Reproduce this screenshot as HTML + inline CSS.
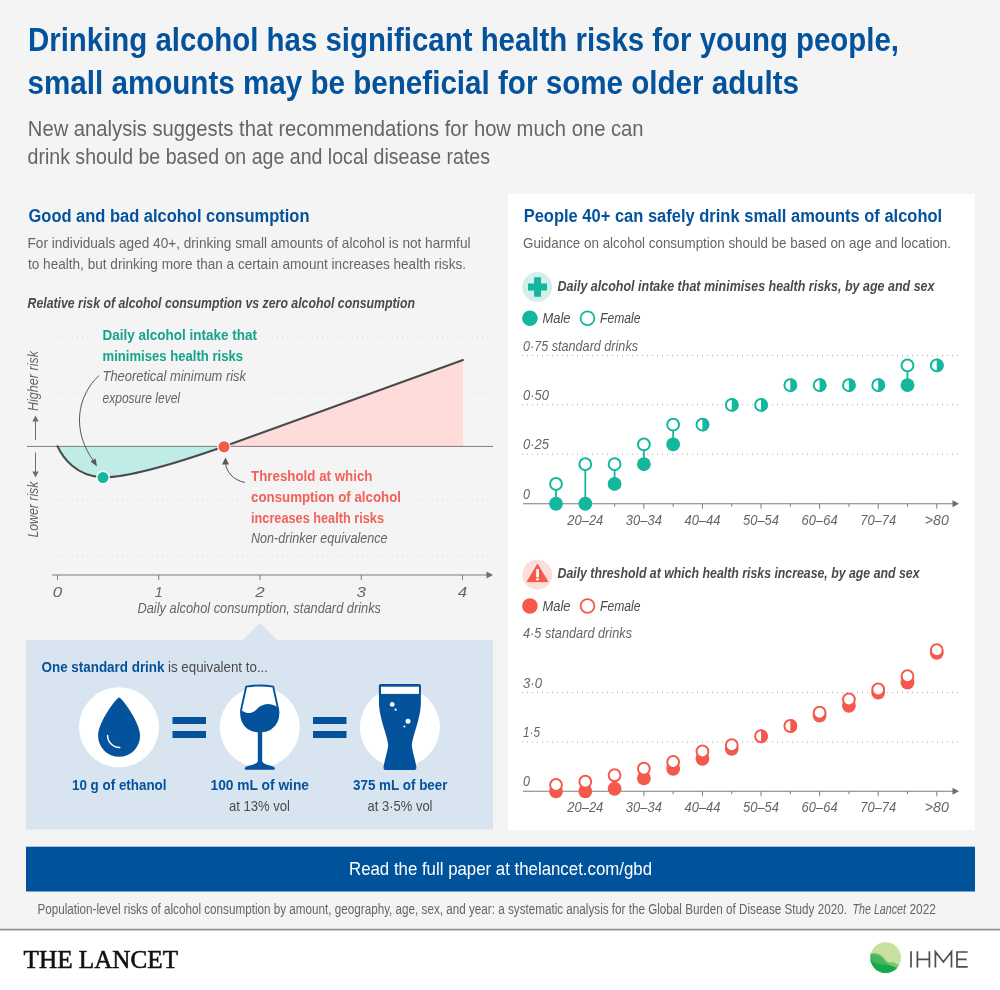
<!DOCTYPE html>
<html lang="en"><head><meta charset="utf-8"><title>Drinking alcohol has significant health risks for young people</title>
<style>
html,body{margin:0;padding:0;background:#f4f4f4;}
body{width:1000px;height:990px;overflow:hidden;font-family:"Liberation Sans",sans-serif;}
svg{display:block;will-change:transform;}
text{white-space:pre;}
</style></head><body>
<svg width="1000" height="990" viewBox="0 0 1000 990">
<rect x="0" y="0" width="1000" height="990" fill="#f4f4f4"/>
<rect x="508" y="194" width="466.5" height="636" fill="#fff"/>
<text x="28" y="50.6" font-size="34" fill="#04529c" font-weight="700" font-style="normal" text-anchor="start" font-family="'Liberation Sans', sans-serif" textLength="871" lengthAdjust="spacingAndGlyphs">Drinking alcohol has significant health risks for young people,</text>
<text x="27.5" y="94" font-size="34" fill="#04529c" font-weight="700" font-style="normal" text-anchor="start" font-family="'Liberation Sans', sans-serif" textLength="771.5" lengthAdjust="spacingAndGlyphs">small amounts may be beneficial for some older adults</text>
<text x="27.8" y="135.8" font-size="22.6" fill="#646567" font-weight="400" font-style="normal" text-anchor="start" font-family="'Liberation Sans', sans-serif" textLength="615.8" lengthAdjust="spacingAndGlyphs">New analysis suggests that recommendations for how much one can</text>
<text x="27.5" y="163.6" font-size="22.6" fill="#646567" font-weight="400" font-style="normal" text-anchor="start" font-family="'Liberation Sans', sans-serif" textLength="462.5" lengthAdjust="spacingAndGlyphs">drink should be based on age and local disease rates</text>
<text x="28.5" y="222" font-size="18" fill="#04529c" font-weight="700" font-style="normal" text-anchor="start" font-family="'Liberation Sans', sans-serif" textLength="281" lengthAdjust="spacingAndGlyphs">Good and bad alcohol consumption</text>
<text x="27.5" y="248" font-size="15" fill="#646567" font-weight="400" font-style="normal" text-anchor="start" font-family="'Liberation Sans', sans-serif" textLength="443" lengthAdjust="spacingAndGlyphs">For individuals aged 40+, drinking small amounts of alcohol is not harmful</text>
<text x="28" y="269" font-size="15" fill="#646567" font-weight="400" font-style="normal" text-anchor="start" font-family="'Liberation Sans', sans-serif" textLength="438" lengthAdjust="spacingAndGlyphs">to health, but drinking more than a certain amount increases health risks.</text>
<text x="27.5" y="307.5" font-size="14.5" fill="#4a4a4c" font-weight="700" font-style="italic" text-anchor="start" font-family="'Liberation Sans', sans-serif" textLength="387.5" lengthAdjust="spacingAndGlyphs">Relative risk of alcohol consumption vs zero alcohol consumption</text>
<line x1="52" y1="337.5" x2="493.5" y2="337.5" stroke="#dadada" stroke-width="1" stroke-dasharray="1 4"/>
<line x1="52" y1="392.3" x2="493.5" y2="392.3" stroke="#dadada" stroke-width="1" stroke-dasharray="1 4"/>
<line x1="52" y1="500.5" x2="493.5" y2="500.5" stroke="#dadada" stroke-width="1" stroke-dasharray="1 4"/>
<line x1="52" y1="555.4" x2="493.5" y2="555.4" stroke="#dadada" stroke-width="1" stroke-dasharray="1 4"/>
<rect x="88" y="326" width="184" height="84" fill="#f4f4f4"/>
<rect x="247" y="468" width="161" height="80" fill="#f4f4f4"/>
<path d="M57.5,446.25 C63,458 76,476 103,477.5 C135,477 190,458.5 224,446.5 L57.5,446.25 Z" fill="#bfece6"/>
<path d="M224,446.5 L463,360 L463,446.5 Z" fill="#fddcd9"/>
<line x1="27" y1="446.4" x2="493" y2="446.4" stroke="#7d7d7f" stroke-width="1"/>
<path d="M57.5,446.25 C63,458 76,476 103,477.5 C135,477 190,458.5 224,446.5 L463,360" fill="none" stroke="#4a4a4c" stroke-width="2" stroke-linejoin="round" stroke-linecap="round"/>
<circle cx="103" cy="477.5" r="6.2" fill="#13b79d" stroke="#fff" stroke-width="1.4"/>
<circle cx="224" cy="446.8" r="6.2" fill="#f5594c" stroke="#fff" stroke-width="1.2"/>
<path d="M99,375.5 C78,395 70,430 95,463" fill="none" stroke="#58585a" stroke-width="1"/>
<path d="M97,466.5 L90.5,461.5 L95.5,458.5 Z" fill="#58585a"/>
<path d="M245,482.5 C233,480 226,472 225.5,462" fill="none" stroke="#58585a" stroke-width="1"/>
<path d="M225.5,457.5 L229,464.5 L222,464.5 Z" fill="#58585a"/>
<text x="102.5" y="340" font-size="15" fill="#16a38b" font-weight="700" font-style="normal" text-anchor="start" font-family="'Liberation Sans', sans-serif" textLength="154.5" lengthAdjust="spacingAndGlyphs">Daily alcohol intake that</text>
<text x="102.5" y="360.5" font-size="15" fill="#16a38b" font-weight="700" font-style="normal" text-anchor="start" font-family="'Liberation Sans', sans-serif" textLength="140.5" lengthAdjust="spacingAndGlyphs">minimises health risks</text>
<text x="102.5" y="381" font-size="14.5" fill="#646567" font-weight="400" font-style="italic" text-anchor="start" font-family="'Liberation Sans', sans-serif" textLength="143.5" lengthAdjust="spacingAndGlyphs">Theoretical minimum risk</text>
<text x="102.5" y="402.5" font-size="14.5" fill="#646567" font-weight="400" font-style="italic" text-anchor="start" font-family="'Liberation Sans', sans-serif" textLength="77.5" lengthAdjust="spacingAndGlyphs">exposure level</text>
<text x="251" y="480.8" font-size="15" fill="#f1625a" font-weight="700" font-style="normal" text-anchor="start" font-family="'Liberation Sans', sans-serif" textLength="121.5" lengthAdjust="spacingAndGlyphs">Threshold at which</text>
<text x="251" y="501.8" font-size="15" fill="#f1625a" font-weight="700" font-style="normal" text-anchor="start" font-family="'Liberation Sans', sans-serif" textLength="150" lengthAdjust="spacingAndGlyphs">consumption of alcohol</text>
<text x="251" y="522.5" font-size="15" fill="#f1625a" font-weight="700" font-style="normal" text-anchor="start" font-family="'Liberation Sans', sans-serif" textLength="133" lengthAdjust="spacingAndGlyphs">increases health risks</text>
<text x="251" y="543" font-size="14.5" fill="#646567" font-weight="400" font-style="italic" text-anchor="start" font-family="'Liberation Sans', sans-serif" textLength="136.5" lengthAdjust="spacingAndGlyphs">Non-drinker equivalence</text>
<line x1="35.5" y1="440" x2="35.5" y2="420" stroke="#6d6e70" stroke-width="1"/>
<path d="M35.5,415.5 L32.3,421.5 L38.7,421.5 Z" fill="#6d6e70"/>
<line x1="35.5" y1="452.5" x2="35.5" y2="472" stroke="#6d6e70" stroke-width="1"/>
<path d="M35.5,477.5 L32.3,471.5 L38.7,471.5 Z" fill="#6d6e70"/>
<text x="0" y="0" font-size="14.5" fill="#646567" font-weight="400" font-style="italic" text-anchor="start" font-family="'Liberation Sans', sans-serif" textLength="60" lengthAdjust="spacingAndGlyphs" transform="translate(38.2,411) rotate(-90)">Higher risk</text>
<text x="0" y="0" font-size="14.5" fill="#646567" font-weight="400" font-style="italic" text-anchor="start" font-family="'Liberation Sans', sans-serif" textLength="56" lengthAdjust="spacingAndGlyphs" transform="translate(38.2,537.6) rotate(-90)">Lower risk</text>
<line x1="52" y1="575" x2="488" y2="575" stroke="#7d7d7f" stroke-width="1"/>
<path d="M493,575 L486.5,571.5 L486.5,578.5 Z" fill="#6d6e70"/>
<line x1="57.5" y1="575" x2="57.5" y2="580" stroke="#7d7d7f" stroke-width="1"/>
<text x="57.5" y="596.6" font-size="15" fill="#646567" font-weight="400" font-style="italic" text-anchor="middle" font-family="'Liberation Sans', sans-serif" textLength="9.4" lengthAdjust="spacingAndGlyphs">0</text>
<line x1="158.75" y1="575" x2="158.75" y2="580" stroke="#7d7d7f" stroke-width="1"/>
<text x="158.75" y="596.6" font-size="15" fill="#646567" font-weight="400" font-style="italic" text-anchor="middle" font-family="'Liberation Sans', sans-serif" textLength="8" lengthAdjust="spacingAndGlyphs">1</text>
<line x1="260.0" y1="575" x2="260.0" y2="580" stroke="#7d7d7f" stroke-width="1"/>
<text x="260.0" y="596.6" font-size="15" fill="#646567" font-weight="400" font-style="italic" text-anchor="middle" font-family="'Liberation Sans', sans-serif" textLength="9.4" lengthAdjust="spacingAndGlyphs">2</text>
<line x1="361.25" y1="575" x2="361.25" y2="580" stroke="#7d7d7f" stroke-width="1"/>
<text x="361.25" y="596.6" font-size="15" fill="#646567" font-weight="400" font-style="italic" text-anchor="middle" font-family="'Liberation Sans', sans-serif" textLength="9.4" lengthAdjust="spacingAndGlyphs">3</text>
<line x1="462.5" y1="575" x2="462.5" y2="580" stroke="#7d7d7f" stroke-width="1"/>
<text x="462.5" y="596.6" font-size="15" fill="#646567" font-weight="400" font-style="italic" text-anchor="middle" font-family="'Liberation Sans', sans-serif" textLength="9.4" lengthAdjust="spacingAndGlyphs">4</text>
<text x="137.5" y="612.5" font-size="14.5" fill="#646567" font-weight="400" font-style="italic" text-anchor="start" font-family="'Liberation Sans', sans-serif" textLength="243.5" lengthAdjust="spacingAndGlyphs">Daily alcohol consumption, standard drinks</text>
<path d="M26,640 L243,640 L260,623 L277,640 L493,640 L493,829.5 L26,829.5 Z" fill="#d9e4f1"/>
<text x="41.5" y="672" font-size="15.5" fill="#04529c" font-weight="700" font-style="normal" text-anchor="start" font-family="'Liberation Sans', sans-serif" textLength="123" lengthAdjust="spacingAndGlyphs">One standard drink</text>
<text x="168" y="672" font-size="15.5" fill="#4a4a4c" font-weight="400" font-style="normal" text-anchor="start" font-family="'Liberation Sans', sans-serif" textLength="100" lengthAdjust="spacingAndGlyphs">is equivalent to...</text>
<circle cx="119" cy="727.3" r="40" fill="#fff"/>
<circle cx="259.8" cy="727.3" r="40" fill="#fff"/>
<circle cx="399.9" cy="727.3" r="40" fill="#fff"/>
<rect x="172.5" y="717" width="33.5" height="7" fill="#04529c"/>
<rect x="172.5" y="731" width="33.5" height="7" fill="#04529c"/>
<rect x="313" y="717" width="33.5" height="7" fill="#04529c"/>
<rect x="313" y="731" width="33.5" height="7" fill="#04529c"/>
<path d="M119.1,697.6 C121.5,697.6 140.1,722 140.1,735.8 A21,21 0 0 1 98.1,735.8 C98.1,722 116.7,697.6 119.1,697.6 Z" fill="#04529c"/>
<path d="M107.6,735.4 A12,12 0 0 0 119.8,747.4" fill="none" stroke="#fff" stroke-width="1.5" stroke-linecap="round"/>
<path d="M246.2,686.6 Q259.8,684.3 273.2,686.6 L277.6,706.8 C279.5,714 279,731 259.8,731.5 C240.5,731 240,714 241.8,706.5 Z" fill="#fff" stroke="#04529c" stroke-width="1.9" stroke-linejoin="round"/>
<path d="M241.5,710.5 C246,713.5 251,714.5 256,710 C261,704.5 268,701.5 277.3,707 C279.5,714 279,731 259.8,731.5 C240.5,731 239.8,716 241.5,710.5 Z" fill="#04529c"/>
<rect x="257.8" y="730" width="4.4" height="34" fill="#04529c"/>
<path d="M257.8,761.5 C256.5,764.5 248,765.6 245.6,767 Q244.4,768 244.8,768.9 Q245.2,769.8 246.6,769.8 L273,769.8 Q274.4,769.8 274.8,768.9 Q275.2,768 274,767 C271.6,765.6 263.5,764.5 262.2,761.5 Z" fill="#04529c"/>
<path d="M380.8,684 L419,684 Q421,684 421,686 L420.8,705 C420,720 412.6,736 411.8,745 C412.3,752 415.5,760 416.4,767.5 Q416.6,770 414.4,770 L385.5,770 Q383.3,770 383.5,767.5 C384.4,760 387.6,752 388.2,745 C387.4,736 380,720 379,705 L378.8,686 Q378.8,684 380.8,684 Z" fill="#04529c"/>
<rect x="381" y="686.7" width="38" height="7.2" fill="#fff"/>
<circle cx="392.2" cy="704.4" r="2.4" fill="#fff"/>
<circle cx="395.6" cy="709.7" r="1.1" fill="#fff"/>
<circle cx="408" cy="721.3" r="2.5" fill="#fff"/>
<circle cx="404.4" cy="726.6" r="1.0" fill="#fff"/>
<text x="72" y="790" font-size="15" fill="#04529c" font-weight="700" font-style="normal" text-anchor="start" font-family="'Liberation Sans', sans-serif" textLength="94.5" lengthAdjust="spacingAndGlyphs">10 g of ethanol</text>
<text x="210.5" y="790" font-size="15" fill="#04529c" font-weight="700" font-style="normal" text-anchor="start" font-family="'Liberation Sans', sans-serif" textLength="98.5" lengthAdjust="spacingAndGlyphs">100 mL of wine</text>
<text x="229" y="811" font-size="15" fill="#4a4a4c" font-weight="400" font-style="normal" text-anchor="start" font-family="'Liberation Sans', sans-serif" textLength="61" lengthAdjust="spacingAndGlyphs">at 13% vol</text>
<text x="353" y="790" font-size="15" fill="#04529c" font-weight="700" font-style="normal" text-anchor="start" font-family="'Liberation Sans', sans-serif" textLength="94.5" lengthAdjust="spacingAndGlyphs">375 mL of beer</text>
<text x="367.5" y="811" font-size="15" fill="#4a4a4c" font-weight="400" font-style="normal" text-anchor="start" font-family="'Liberation Sans', sans-serif" textLength="65" lengthAdjust="spacingAndGlyphs">at 3·5% vol</text>
<text x="523.7" y="221.9" font-size="18" fill="#04529c" font-weight="700" font-style="normal" text-anchor="start" font-family="'Liberation Sans', sans-serif" textLength="418.5" lengthAdjust="spacingAndGlyphs">People 40+ can safely drink small amounts of alcohol</text>
<text x="523" y="248" font-size="15" fill="#646567" font-weight="400" font-style="normal" text-anchor="start" font-family="'Liberation Sans', sans-serif" textLength="428" lengthAdjust="spacingAndGlyphs">Guidance on alcohol consumption should be based on age and location.</text>
<circle cx="537.25" cy="286.95" r="14.9" fill="#d3efea"/>
<path d="M534.1,277.35 h6.9 v6.1 h6 v7.1 h-6 v6.2 h-6.9 v-6.2 h-6.1 v-7.1 h6.1 Z" fill="#13b79d"/>
<text x="557.5" y="290.75" font-size="14.5" fill="#4a4a4c" font-weight="700" font-style="italic" text-anchor="start" font-family="'Liberation Sans', sans-serif" textLength="377" lengthAdjust="spacingAndGlyphs">Daily alcohol intake that minimises health risks, by age and sex</text>
<circle cx="529.9" cy="318.25" r="7.8" fill="#13b79d"/>
<circle cx="587.5" cy="318.25" r="6.9" fill="#fff" stroke="#13b79d" stroke-width="1.8"/>
<text x="542.5" y="323.05" font-size="15" fill="#4a4a4c" font-weight="400" font-style="italic" text-anchor="start" font-family="'Liberation Sans', sans-serif" textLength="28" lengthAdjust="spacingAndGlyphs">Male</text>
<text x="600" y="323.05" font-size="15" fill="#4a4a4c" font-weight="400" font-style="italic" text-anchor="start" font-family="'Liberation Sans', sans-serif" textLength="40.5" lengthAdjust="spacingAndGlyphs">Female</text>
<line x1="522" y1="355.50" x2="958.5" y2="355.50" stroke="#a9a9a9" stroke-width="1" stroke-dasharray="1 4"/>
<text x="523" y="350.5" font-size="14.5" fill="#646567" font-weight="400" font-style="italic" text-anchor="start" font-family="'Liberation Sans', sans-serif" textLength="115" lengthAdjust="spacingAndGlyphs">0·75 standard drinks</text>
<line x1="522" y1="404.75" x2="958.5" y2="404.75" stroke="#a9a9a9" stroke-width="1" stroke-dasharray="1 4"/>
<text x="523" y="399.75" font-size="14.5" fill="#646567" font-weight="400" font-style="italic" text-anchor="start" font-family="'Liberation Sans', sans-serif" textLength="26" lengthAdjust="spacingAndGlyphs">0·50</text>
<line x1="522" y1="454.25" x2="958.5" y2="454.25" stroke="#a9a9a9" stroke-width="1" stroke-dasharray="1 4"/>
<text x="523" y="449.25" font-size="14.5" fill="#646567" font-weight="400" font-style="italic" text-anchor="start" font-family="'Liberation Sans', sans-serif" textLength="26" lengthAdjust="spacingAndGlyphs">0·25</text>
<text x="523" y="498.75" font-size="14.5" fill="#646567" font-weight="400" font-style="italic" text-anchor="start" font-family="'Liberation Sans', sans-serif" textLength="7" lengthAdjust="spacingAndGlyphs">0</text>
<line x1="523" y1="503.75" x2="954" y2="503.75" stroke="#7d7d7f" stroke-width="1"/>
<path d="M959,503.75 L952.5,500.25 L952.5,507.25 Z" fill="#6d6e70"/>
<line x1="585.29" y1="503.75" x2="585.29" y2="508.75" stroke="#7d7d7f" stroke-width="1"/>
<text x="585.29" y="524.75" font-size="14.5" fill="#646567" font-weight="400" font-style="italic" text-anchor="middle" font-family="'Liberation Sans', sans-serif" textLength="36" lengthAdjust="spacingAndGlyphs">20–24</text>
<line x1="614.58" y1="503.75" x2="614.58" y2="506.75" stroke="#7d7d7f" stroke-width="1"/>
<line x1="643.87" y1="503.75" x2="643.87" y2="508.75" stroke="#7d7d7f" stroke-width="1"/>
<text x="643.87" y="524.75" font-size="14.5" fill="#646567" font-weight="400" font-style="italic" text-anchor="middle" font-family="'Liberation Sans', sans-serif" textLength="36" lengthAdjust="spacingAndGlyphs">30–34</text>
<line x1="673.16" y1="503.75" x2="673.16" y2="506.75" stroke="#7d7d7f" stroke-width="1"/>
<line x1="702.45" y1="503.75" x2="702.45" y2="508.75" stroke="#7d7d7f" stroke-width="1"/>
<text x="702.45" y="524.75" font-size="14.5" fill="#646567" font-weight="400" font-style="italic" text-anchor="middle" font-family="'Liberation Sans', sans-serif" textLength="36" lengthAdjust="spacingAndGlyphs">40–44</text>
<line x1="731.74" y1="503.75" x2="731.74" y2="506.75" stroke="#7d7d7f" stroke-width="1"/>
<line x1="761.03" y1="503.75" x2="761.03" y2="508.75" stroke="#7d7d7f" stroke-width="1"/>
<text x="761.03" y="524.75" font-size="14.5" fill="#646567" font-weight="400" font-style="italic" text-anchor="middle" font-family="'Liberation Sans', sans-serif" textLength="36" lengthAdjust="spacingAndGlyphs">50–54</text>
<line x1="790.32" y1="503.75" x2="790.32" y2="506.75" stroke="#7d7d7f" stroke-width="1"/>
<line x1="819.61" y1="503.75" x2="819.61" y2="508.75" stroke="#7d7d7f" stroke-width="1"/>
<text x="819.61" y="524.75" font-size="14.5" fill="#646567" font-weight="400" font-style="italic" text-anchor="middle" font-family="'Liberation Sans', sans-serif" textLength="36" lengthAdjust="spacingAndGlyphs">60–64</text>
<line x1="848.90" y1="503.75" x2="848.90" y2="506.75" stroke="#7d7d7f" stroke-width="1"/>
<line x1="878.19" y1="503.75" x2="878.19" y2="508.75" stroke="#7d7d7f" stroke-width="1"/>
<text x="878.19" y="524.75" font-size="14.5" fill="#646567" font-weight="400" font-style="italic" text-anchor="middle" font-family="'Liberation Sans', sans-serif" textLength="36" lengthAdjust="spacingAndGlyphs">70–74</text>
<line x1="907.48" y1="503.75" x2="907.48" y2="506.75" stroke="#7d7d7f" stroke-width="1"/>
<line x1="936.77" y1="503.75" x2="936.77" y2="508.75" stroke="#7d7d7f" stroke-width="1"/>
<text x="936.77" y="524.75" font-size="14.5" fill="#646567" font-weight="400" font-style="italic" text-anchor="middle" font-family="'Liberation Sans', sans-serif" textLength="24" lengthAdjust="spacingAndGlyphs">&gt;80</text>
<line x1="556.00" y1="503.75" x2="556.00" y2="483.99" stroke="#13b79d" stroke-width="1.8"/>
<circle cx="556.00" cy="503.75" r="6.9" fill="#13b79d"/>
<circle cx="556.00" cy="483.99" r="5.9" fill="#fff" stroke="#13b79d" stroke-width="2"/>
<line x1="585.29" y1="503.75" x2="585.29" y2="464.23" stroke="#13b79d" stroke-width="1.8"/>
<circle cx="585.29" cy="503.75" r="6.9" fill="#13b79d"/>
<circle cx="585.29" cy="464.23" r="5.9" fill="#fff" stroke="#13b79d" stroke-width="2"/>
<line x1="614.58" y1="483.99" x2="614.58" y2="464.23" stroke="#13b79d" stroke-width="1.8"/>
<circle cx="614.58" cy="483.99" r="6.9" fill="#13b79d"/>
<circle cx="614.58" cy="464.23" r="5.9" fill="#fff" stroke="#13b79d" stroke-width="2"/>
<line x1="643.87" y1="464.23" x2="643.87" y2="444.47" stroke="#13b79d" stroke-width="1.8"/>
<circle cx="643.87" cy="464.23" r="6.9" fill="#13b79d"/>
<circle cx="643.87" cy="444.47" r="5.9" fill="#fff" stroke="#13b79d" stroke-width="2"/>
<line x1="673.16" y1="444.47" x2="673.16" y2="424.71" stroke="#13b79d" stroke-width="1.8"/>
<circle cx="673.16" cy="444.47" r="6.9" fill="#13b79d"/>
<circle cx="673.16" cy="424.71" r="5.9" fill="#fff" stroke="#13b79d" stroke-width="2"/>
<circle cx="702.45" cy="424.71" r="5.9" fill="#fff" stroke="#13b79d" stroke-width="2"/>
<path d="M702.45,417.81 A6.9,6.9 0 0 1 702.45,431.61 Z" fill="#13b79d"/>
<circle cx="731.74" cy="404.95" r="5.9" fill="#fff" stroke="#13b79d" stroke-width="2"/>
<path d="M731.74,398.05 A6.9,6.9 0 0 1 731.74,411.85 Z" fill="#13b79d"/>
<circle cx="761.03" cy="404.95" r="5.9" fill="#fff" stroke="#13b79d" stroke-width="2"/>
<path d="M761.03,398.05 A6.9,6.9 0 0 1 761.03,411.85 Z" fill="#13b79d"/>
<circle cx="790.32" cy="385.19" r="5.9" fill="#fff" stroke="#13b79d" stroke-width="2"/>
<path d="M790.32,378.29 A6.9,6.9 0 0 1 790.32,392.09 Z" fill="#13b79d"/>
<circle cx="819.61" cy="385.19" r="5.9" fill="#fff" stroke="#13b79d" stroke-width="2"/>
<path d="M819.61,378.29 A6.9,6.9 0 0 1 819.61,392.09 Z" fill="#13b79d"/>
<circle cx="848.90" cy="385.19" r="5.9" fill="#fff" stroke="#13b79d" stroke-width="2"/>
<path d="M848.90,378.29 A6.9,6.9 0 0 1 848.90,392.09 Z" fill="#13b79d"/>
<circle cx="878.19" cy="385.19" r="5.9" fill="#fff" stroke="#13b79d" stroke-width="2"/>
<path d="M878.19,378.29 A6.9,6.9 0 0 1 878.19,392.09 Z" fill="#13b79d"/>
<line x1="907.48" y1="385.19" x2="907.48" y2="365.43" stroke="#13b79d" stroke-width="1.8"/>
<circle cx="907.48" cy="385.19" r="6.9" fill="#13b79d"/>
<circle cx="907.48" cy="365.43" r="5.9" fill="#fff" stroke="#13b79d" stroke-width="2"/>
<circle cx="936.77" cy="365.43" r="5.9" fill="#fff" stroke="#13b79d" stroke-width="2"/>
<path d="M936.77,358.53 A6.9,6.9 0 0 1 936.77,372.33 Z" fill="#13b79d"/>
<circle cx="537.25" cy="574.65" r="14.9" fill="#fcdedb"/>
<path d="M537.5,564.15 L547.8,581.65 L527.2,581.65 Z" fill="#f5594c" stroke="#f5594c" stroke-width="1" stroke-linejoin="round"/>
<rect x="536.2" y="569.05" width="2.7" height="8.2" fill="#fff"/>
<circle cx="537.55" cy="579.25" r="1.35" fill="#fff"/>
<text x="557.5" y="578.4499999999999" font-size="14.5" fill="#4a4a4c" font-weight="700" font-style="italic" text-anchor="start" font-family="'Liberation Sans', sans-serif" textLength="362" lengthAdjust="spacingAndGlyphs">Daily threshold at which health risks increase, by age and sex</text>
<circle cx="529.9" cy="605.95" r="7.8" fill="#f5594c"/>
<circle cx="587.5" cy="605.95" r="6.9" fill="#fff" stroke="#f5594c" stroke-width="1.8"/>
<text x="542.5" y="610.7499999999999" font-size="15" fill="#4a4a4c" font-weight="400" font-style="italic" text-anchor="start" font-family="'Liberation Sans', sans-serif" textLength="28" lengthAdjust="spacingAndGlyphs">Male</text>
<text x="600" y="610.7499999999999" font-size="15" fill="#4a4a4c" font-weight="400" font-style="italic" text-anchor="start" font-family="'Liberation Sans', sans-serif" textLength="40.5" lengthAdjust="spacingAndGlyphs">Female</text>
<text x="523" y="638.0" font-size="14.5" fill="#646567" font-weight="400" font-style="italic" text-anchor="start" font-family="'Liberation Sans', sans-serif" textLength="109" lengthAdjust="spacingAndGlyphs">4·5 standard drinks</text>
<line x1="522" y1="692.50" x2="958.5" y2="692.50" stroke="#a9a9a9" stroke-width="1" stroke-dasharray="1 4"/>
<text x="523" y="687.5" font-size="14.5" fill="#646567" font-weight="400" font-style="italic" text-anchor="start" font-family="'Liberation Sans', sans-serif" textLength="19" lengthAdjust="spacingAndGlyphs">3·0</text>
<line x1="522" y1="742.00" x2="958.5" y2="742.00" stroke="#a9a9a9" stroke-width="1" stroke-dasharray="1 4"/>
<text x="523" y="737.0" font-size="14.5" fill="#646567" font-weight="400" font-style="italic" text-anchor="start" font-family="'Liberation Sans', sans-serif" textLength="17" lengthAdjust="spacingAndGlyphs">1·5</text>
<text x="523" y="786.25" font-size="14.5" fill="#646567" font-weight="400" font-style="italic" text-anchor="start" font-family="'Liberation Sans', sans-serif" textLength="7" lengthAdjust="spacingAndGlyphs">0</text>
<line x1="523" y1="791.25" x2="954" y2="791.25" stroke="#7d7d7f" stroke-width="1"/>
<path d="M959,791.25 L952.5,787.75 L952.5,794.75 Z" fill="#6d6e70"/>
<line x1="585.29" y1="791.25" x2="585.29" y2="796.25" stroke="#7d7d7f" stroke-width="1"/>
<text x="585.29" y="812.25" font-size="14.5" fill="#646567" font-weight="400" font-style="italic" text-anchor="middle" font-family="'Liberation Sans', sans-serif" textLength="36" lengthAdjust="spacingAndGlyphs">20–24</text>
<line x1="614.58" y1="791.25" x2="614.58" y2="794.25" stroke="#7d7d7f" stroke-width="1"/>
<line x1="643.87" y1="791.25" x2="643.87" y2="796.25" stroke="#7d7d7f" stroke-width="1"/>
<text x="643.87" y="812.25" font-size="14.5" fill="#646567" font-weight="400" font-style="italic" text-anchor="middle" font-family="'Liberation Sans', sans-serif" textLength="36" lengthAdjust="spacingAndGlyphs">30–34</text>
<line x1="673.16" y1="791.25" x2="673.16" y2="794.25" stroke="#7d7d7f" stroke-width="1"/>
<line x1="702.45" y1="791.25" x2="702.45" y2="796.25" stroke="#7d7d7f" stroke-width="1"/>
<text x="702.45" y="812.25" font-size="14.5" fill="#646567" font-weight="400" font-style="italic" text-anchor="middle" font-family="'Liberation Sans', sans-serif" textLength="36" lengthAdjust="spacingAndGlyphs">40–44</text>
<line x1="731.74" y1="791.25" x2="731.74" y2="794.25" stroke="#7d7d7f" stroke-width="1"/>
<line x1="761.03" y1="791.25" x2="761.03" y2="796.25" stroke="#7d7d7f" stroke-width="1"/>
<text x="761.03" y="812.25" font-size="14.5" fill="#646567" font-weight="400" font-style="italic" text-anchor="middle" font-family="'Liberation Sans', sans-serif" textLength="36" lengthAdjust="spacingAndGlyphs">50–54</text>
<line x1="790.32" y1="791.25" x2="790.32" y2="794.25" stroke="#7d7d7f" stroke-width="1"/>
<line x1="819.61" y1="791.25" x2="819.61" y2="796.25" stroke="#7d7d7f" stroke-width="1"/>
<text x="819.61" y="812.25" font-size="14.5" fill="#646567" font-weight="400" font-style="italic" text-anchor="middle" font-family="'Liberation Sans', sans-serif" textLength="36" lengthAdjust="spacingAndGlyphs">60–64</text>
<line x1="848.90" y1="791.25" x2="848.90" y2="794.25" stroke="#7d7d7f" stroke-width="1"/>
<line x1="878.19" y1="791.25" x2="878.19" y2="796.25" stroke="#7d7d7f" stroke-width="1"/>
<text x="878.19" y="812.25" font-size="14.5" fill="#646567" font-weight="400" font-style="italic" text-anchor="middle" font-family="'Liberation Sans', sans-serif" textLength="36" lengthAdjust="spacingAndGlyphs">70–74</text>
<line x1="907.48" y1="791.25" x2="907.48" y2="794.25" stroke="#7d7d7f" stroke-width="1"/>
<line x1="936.77" y1="791.25" x2="936.77" y2="796.25" stroke="#7d7d7f" stroke-width="1"/>
<text x="936.77" y="812.25" font-size="14.5" fill="#646567" font-weight="400" font-style="italic" text-anchor="middle" font-family="'Liberation Sans', sans-serif" textLength="24" lengthAdjust="spacingAndGlyphs">&gt;80</text>
<circle cx="556.00" cy="791.25" r="6.9" fill="#f5594c"/>
<circle cx="556.00" cy="785.00" r="5.9" fill="#fff" stroke="#f5594c" stroke-width="2"/>
<circle cx="585.29" cy="791.25" r="6.9" fill="#f5594c"/>
<circle cx="585.29" cy="781.75" r="5.9" fill="#fff" stroke="#f5594c" stroke-width="2"/>
<circle cx="614.58" cy="788.75" r="6.9" fill="#f5594c"/>
<circle cx="614.58" cy="775.25" r="5.9" fill="#fff" stroke="#f5594c" stroke-width="2"/>
<circle cx="643.87" cy="778.25" r="6.9" fill="#f5594c"/>
<circle cx="643.87" cy="768.75" r="5.9" fill="#fff" stroke="#f5594c" stroke-width="2"/>
<circle cx="673.16" cy="768.75" r="6.9" fill="#f5594c"/>
<circle cx="673.16" cy="762.00" r="5.9" fill="#fff" stroke="#f5594c" stroke-width="2"/>
<circle cx="702.45" cy="758.75" r="6.9" fill="#f5594c"/>
<circle cx="702.45" cy="751.50" r="5.9" fill="#fff" stroke="#f5594c" stroke-width="2"/>
<circle cx="731.74" cy="748.75" r="6.9" fill="#f5594c"/>
<circle cx="731.74" cy="745.25" r="5.9" fill="#fff" stroke="#f5594c" stroke-width="2"/>
<circle cx="761.03" cy="736.25" r="5.9" fill="#fff" stroke="#f5594c" stroke-width="2"/>
<path d="M761.03,729.35 A6.9,6.9 0 0 1 761.03,743.15 Z" fill="#f5594c"/>
<circle cx="790.32" cy="726.00" r="5.9" fill="#fff" stroke="#f5594c" stroke-width="2"/>
<path d="M790.32,719.10 A6.9,6.9 0 0 1 790.32,732.90 Z" fill="#f5594c"/>
<circle cx="819.61" cy="715.50" r="6.9" fill="#f5594c"/>
<circle cx="819.61" cy="712.75" r="5.9" fill="#fff" stroke="#f5594c" stroke-width="2"/>
<circle cx="848.90" cy="705.75" r="6.9" fill="#f5594c"/>
<circle cx="848.90" cy="699.50" r="5.9" fill="#fff" stroke="#f5594c" stroke-width="2"/>
<circle cx="878.19" cy="692.50" r="6.9" fill="#f5594c"/>
<circle cx="878.19" cy="689.50" r="5.9" fill="#fff" stroke="#f5594c" stroke-width="2"/>
<circle cx="907.48" cy="682.50" r="6.9" fill="#f5594c"/>
<circle cx="907.48" cy="676.25" r="5.9" fill="#fff" stroke="#f5594c" stroke-width="2"/>
<circle cx="936.77" cy="652.80" r="6.9" fill="#f5594c"/>
<circle cx="936.77" cy="650.20" r="5.9" fill="#fff" stroke="#f5594c" stroke-width="2"/>
<rect x="26" y="846.7" width="949" height="44.8" fill="#00529b"/>
<text x="349" y="875" font-size="18.5" fill="#fff" font-weight="400" font-style="normal" text-anchor="start" font-family="'Liberation Sans', sans-serif" textLength="303" lengthAdjust="spacingAndGlyphs">Read the full paper at thelancet.com/gbd</text>
<text x="37.4" y="913.5" font-size="13.8" fill="#646567" font-weight="400" font-style="normal" text-anchor="start" font-family="'Liberation Sans', sans-serif" textLength="809.5" lengthAdjust="spacingAndGlyphs">Population-level risks of alcohol consumption by amount, geography, age, sex, and year: a systematic analysis for the Global Burden of Disease Study 2020.</text>
<text x="852.5" y="913.5" font-size="13.8" fill="#646567" font-weight="400" font-style="italic" text-anchor="start" font-family="'Liberation Sans', sans-serif" textLength="53.5" lengthAdjust="spacingAndGlyphs">The Lancet</text>
<text x="909.5" y="913.5" font-size="13.8" fill="#646567" font-weight="400" font-style="normal" text-anchor="start" font-family="'Liberation Sans', sans-serif" textLength="26.5" lengthAdjust="spacingAndGlyphs">2022</text>
<rect x="0" y="930.2" width="1000" height="59.8" fill="#fff"/>
<rect x="0" y="928.8" width="1000" height="1.6" fill="#8c8c8c"/>
<text x="23.6" y="968" font-size="24.5" fill="#111" font-weight="400" font-style="normal" text-anchor="start" font-family="'Liberation Serif', sans-serif" textLength="154.4" lengthAdjust="spacingAndGlyphs" stroke="#111" stroke-width="0.55">THE LANCET</text>
<defs><clipPath id="lc"><circle cx="885.7" cy="957.6" r="15.3"/></clipPath></defs>
<circle cx="885.7" cy="957.6" r="15.3" fill="#c8e1a0"/>
<g clip-path="url(#lc)"><path d="M868,953.6 C872,952.6 877,952.6 881,955 C884.5,957.2 886,961 888.2,962.3 C890.5,961.8 893.5,962 895.5,963.2 C897,964 898,964.6 904,966 L904,976 L868,976 Z" fill="#79c878"/><path d="M868,954.4 C873,953.8 877.5,954.2 880.5,956.6 C883.5,959 885.5,963 888.5,964.6 L896,969 L868,976 Z" fill="#43b65b"/><path d="M868,958.6 C873,960.2 875.5,963.6 879.5,964.4 C883,965 886,964.4 889,965 C892,965.8 895,967.6 904,969.5 L904,976 L868,976 Z" fill="#18a84a"/></g>
<path d="M911,951.2 V967.6 M917.4,951.2 V967.6 M929.4,951.2 V967.6 M917.4,959.4 H929.4 M935.4,967.6 V951.8 L943.4,962 L951.5,951.8 V967.6 M967.7,952 H957 V966.8 H967.7 M957,959.4 H966.6" stroke="#4d4d4f" stroke-width="1.7" fill="none"/>
</svg>
</body></html>
